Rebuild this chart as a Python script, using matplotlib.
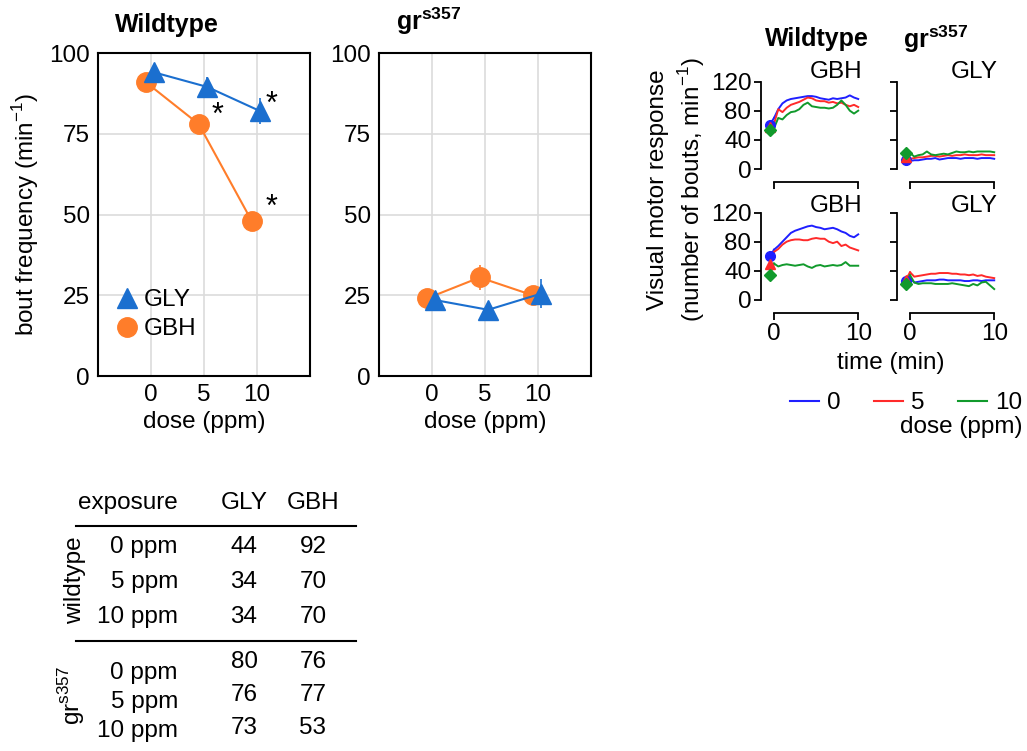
import numpy as np
import matplotlib
matplotlib.use("Agg")
import matplotlib.pyplot as plt
from matplotlib.lines import Line2D

plt.rcParams['font.family'] = ['Liberation Sans', 'DejaVu Sans']
plt.rcParams['mathtext.fontset'] = 'custom'
plt.rcParams['mathtext.rm'] = 'Liberation Sans'
plt.rcParams['mathtext.bf'] = 'Liberation Sans:bold'

# dose-response (bout frequency, min^-1)
doses = [0, 5, 10]
wt_gly = [94, 89.5, 82]
wt_gbh = [91, 78, 48]
wt_gly_err = [2, 3, 4]
wt_gbh_err = [2, 2, 2]
gr_gly = [23.5, 20.5, 25.5]
gr_gbh = [24, 30.5, 25]
gr_gly_err = [2, 2, 4.5]
gr_gbh_err = [2, 4, 2]

# visual motor response time courses, t = 0..10 min every 0.5 min
t = np.arange(0, 10.5, 0.5)
start_t = -0.5
wt_gbh_0 = [70, 82, 90, 94, 96, 97, 98, 99, 100, 100, 99, 97, 96, 95, 97, 96, 97, 98, 101, 98, 96]
wt_gbh_5 = [62, 82, 78, 84, 88, 90, 92, 95, 98, 97, 94, 93, 93, 91, 92, 90, 91, 88, 86, 88, 85]
wt_gbh_10 = [56, 70, 68, 74, 78, 79, 82, 88, 91, 86, 85, 84, 84, 83, 84, 88, 94, 88, 80, 76, 80]
wt_gbh_start = [61, 58, 53]
gr_gly_0 = [11, 12, 12, 13, 14, 14, 15, 13, 14, 15, 15, 15, 14, 15, 15, 15, 14, 15, 15, 15, 14]
gr_gly_5 = [14, 15, 16, 16, 17, 18, 18, 17, 18, 19, 18, 19, 19, 20, 19, 19, 19, 20, 19, 19, 19]
gr_gly_10 = [22, 17, 19, 20, 24, 20, 19, 20, 21, 20, 22, 24, 23, 23, 24, 23, 24, 24, 24, 24, 23]
gr_gly_start = [12, 16, 22]
wt2_gbh_0 = [69, 74, 80, 86, 92, 95, 97, 99, 101, 102, 100, 99, 97, 98, 99, 97, 94, 92, 88, 86, 90]
wt2_gbh_5 = [66, 70, 76, 80, 82, 83, 83, 82, 82, 84, 85, 84, 84, 80, 78, 80, 74, 76, 72, 70, 68]
wt2_gbh_10 = [50, 46, 48, 49, 48, 47, 48, 49, 46, 44, 47, 48, 46, 47, 48, 47, 48, 52, 47, 47, 47]
wt2_gbh_start = [60, 50, 34]
gr2_gly_0 = [30, 24, 25, 26, 27, 27, 27, 28, 28, 27, 27, 27, 27, 26, 26, 27, 27, 26, 27, 27, 27]
gr2_gly_5 = [38, 32, 33, 34, 35, 36, 36, 37, 37, 37, 36, 36, 35, 35, 34, 35, 33, 34, 32, 31, 30]
gr2_gly_10 = [34, 24, 22, 23, 23, 23, 22, 22, 22, 22, 23, 22, 21, 20, 19, 22, 20, 24, 25, 20, 15]
gr2_gly_start = [26, 28, 22]

# table
exposures = ['0 ppm', '5 ppm', '10 ppm']
tab_wt_gly = [44, 34, 34]
tab_wt_gbh = [92, 70, 70]
tab_gr_gly = [80, 76, 73]
tab_gr_gbh = [76, 77, 53]

C_GLY = '#1b6fcf'
C_GBH = '#ff7d2a'
DOSE_COLORS = ['#1f1fff', '#ff2a2a', '#119a2c']
DOSE_MARKERS = ['o', '^', 'D']
FS = 17.5

W, H = 1027, 751
fig = plt.figure(figsize=(W / 100, H / 100), dpi=100)


def fx(px):
    return px / W


def fy(py):
    return 1 - py / H


def main_panel(left, gly, gbh, gly_err, gbh_err, title, ylabel=False, legend=False):
    ax = fig.add_axes([fx(left), fy(376), fx(212), (376 - 53) / H])
    ax.set_xlim(-5, 15)
    ax.set_ylim(0, 100)
    x = np.array(doses, dtype=float)
    ax.errorbar(x - 0.5, gbh, yerr=gbh_err, color=C_GBH, marker='o', ms=14, lw=1.5,
                elinewidth=1.2, capsize=0, label='GBH', zorder=3)
    ax.errorbar(x + 0.3, gly, yerr=gly_err, color=C_GLY, marker='^', ms=15, lw=1.5,
                elinewidth=1.2, capsize=0, label='GLY', zorder=4)
    ax.set_xticks(doses)
    ax.set_yticks([0, 25, 50, 75, 100])
    ax.grid(True, color='#dcdcdc', lw=1.2)
    ax.set_axisbelow(True)
    ax.tick_params(length=0, labelsize=FS, pad=6)
    for s in ax.spines.values():
        s.set_linewidth(1.5)
    ax.set_xlabel('dose (ppm)', fontsize=FS, labelpad=3)
    if ylabel:
        ax.set_ylabel(r'bout frequency (min$^{\mathregular{-1}}$)', fontsize=FS, labelpad=6)
    ax.text(0.08, 1.05, title, transform=ax.transAxes, fontsize=18,
            fontweight='bold', ha='left', va='bottom')
    if legend:
        h = [Line2D([], [], color=C_GLY, marker='^', ms=15, ls='none'),
             Line2D([], [], color=C_GBH, marker='o', ms=14, ls='none')]
        ax.legend(h, ['GLY', 'GBH'], loc='lower left', bbox_to_anchor=(0.02, 0.08),
                  frameon=False, fontsize=FS, handletextpad=0.1, handlelength=1.2,
                  labelspacing=0.3, borderaxespad=0)
    return ax


ax1 = main_panel(98, wt_gly, wt_gbh, wt_gly_err, wt_gbh_err, 'Wildtype', ylabel=True, legend=True)
for xs, ys in [(6.3, 80.5), (11.4, 84), (11.4, 52)]:
    ax1.text(xs, ys, '*', fontsize=22, ha='center', va='center')
main_panel(379, gr_gly, gr_gbh, gr_gly_err, gr_gbh_err, r'$\mathbf{gr^{s357}}$')


def small_panel(left, bottom_px, series, starts, label, label_gap, xticklabels):
    ax = fig.add_axes([fx(left), fy(bottom_px), fx(101), 87.5 / H])
    for ys, y0, c, m in zip(series, starts, DOSE_COLORS, DOSE_MARKERS):
        ax.plot(t, ys, color=c, lw=1.4, zorder=2)
        ax.plot([start_t, 0], [y0, ys[0]], color=c, lw=1.4, zorder=2)
        ax.plot([start_t], [y0], color=c, marker=m, ms=7 if m != 'D' else 6, ls='none', zorder=3)
    ax.set_xlim(-1.55, 10.45)
    ax.set_ylim(0, 120)
    for s in ['top', 'right']:
        ax.spines[s].set_visible(False)
    ax.spines['left'].set_bounds(0, 120)
    ax.spines['bottom'].set_bounds(0, 10)
    ax.spines['bottom'].set_position(('outward', 9.5))
    for s in ['left', 'bottom']:
        ax.spines[s].set_linewidth(1.3)
    ax.set_yticks([0, 40, 80, 120])
    ax.set_xticks([0, 10])
    ax.tick_params(direction='out', length=5, width=1.3, labelsize=FS, pad=2)
    if left > 800:
        ax.set_yticklabels([])
    if not xticklabels:
        ax.set_xticklabels([])
    ax.text(1.0, 1 + label_gap / 87.5, label, transform=ax.transAxes, fontsize=FS,
            ha='right', va='center')
    return ax


small_panel(761, 169, [wt_gbh_0, wt_gbh_5, wt_gbh_10], wt_gbh_start, 'GBH', 10, False)
small_panel(897, 169, [gr_gly_0, gr_gly_5, gr_gly_10], gr_gly_start, 'GLY', 10, False)
small_panel(761, 300, [wt2_gbh_0, wt2_gbh_5, wt2_gbh_10], wt2_gbh_start, 'GBH', 6, True)
small_panel(897, 300, [gr2_gly_0, gr2_gly_5, gr2_gly_10], gr2_gly_start, 'GLY', 6, True)

fig.text(fx(817), fy(39), 'Wildtype', fontsize=18, fontweight='bold', ha='center', va='center')
fig.text(fx(903), fy(39), r'$\mathbf{gr^{s357}}$', fontsize=18, ha='left', va='center')
fig.text(fx(677), fy(190), 'Visual motor response\n' + r'(number of bouts, min$^{\mathregular{-1}}$)',
         fontsize=FS, rotation=90, ha='center', va='center', linespacing=1.3)
fig.text(fx(891), fy(363), 'time (min)', fontsize=FS, ha='center', va='center')
dose_handles = [Line2D([], [], color=c, lw=1.5) for c in DOSE_COLORS]
fig.legend(dose_handles, ['0', '5', '10'], loc='center', bbox_to_anchor=(fx(906), fy(403)),
           ncol=3, frameon=False, fontsize=FS, handlelength=1.2, handletextpad=0.3,
           columnspacing=1.4)
fig.text(fx(1023), fy(427), 'dose (ppm)', fontsize=FS, ha='right', va='center')

# table
fig.text(fx(178), fy(503), 'exposure', fontsize=FS, ha='right', va='center')
fig.text(fx(244), fy(503), 'GLY', fontsize=FS, ha='center', va='center')
fig.text(fx(313), fy(503), 'GBH', fontsize=FS, ha='center', va='center')
for yy in [526, 641]:
    fig.add_artist(Line2D([fx(76), fx(356)], [fy(yy), fy(yy)], color='black', lw=1.5))
for i, (e, a, b) in enumerate(zip(exposures, tab_wt_gly, tab_wt_gbh)):
    yy = 547 + i * 35
    fig.text(fx(178), fy(yy), e, fontsize=FS, ha='right', va='center')
    fig.text(fx(244), fy(yy), str(a), fontsize=FS, ha='center', va='center')
    fig.text(fx(313), fy(yy), str(b), fontsize=FS, ha='center', va='center')
for i, (e, a, b) in enumerate(zip(exposures, tab_gr_gly, tab_gr_gbh)):
    fig.text(fx(178), fy(673 + i * 29), e, fontsize=FS, ha='right', va='center')
    fig.text(fx(244), fy(662 + i * 33), str(a), fontsize=FS, ha='center', va='center')
    fig.text(fx(313), fy(662 + i * 33), str(b), fontsize=FS, ha='center', va='center')
fig.text(fx(75), fy(580), 'wildtype', fontsize=FS, rotation=90, ha='center', va='center')
fig.text(fx(72), fy(695), r'gr$^{\mathregular{s357}}$', fontsize=FS, rotation=90, ha='center', va='center')

fig.savefig('out.png', dpi=100)
